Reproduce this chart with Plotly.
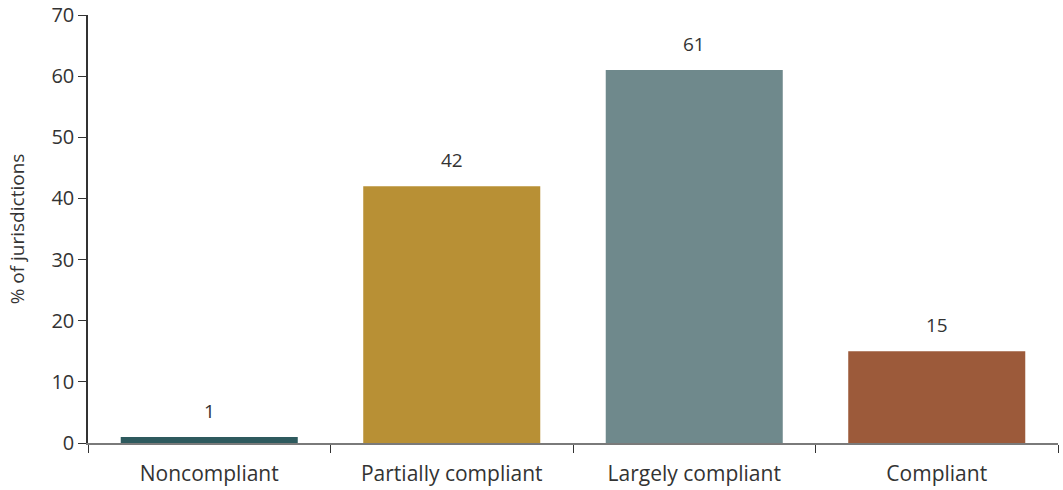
import plotly.graph_objects as go

categories = ["Noncompliant", "Partially compliant", "Largely compliant", "Compliant"]
values = [1, 42, 61, 15]
colors = ["#2E5A5E", "#B89035", "#6F898C", "#9C5A3A"]
y_ticks = [0, 10, 20, 30, 40, 50, 60, 70]

font_family = "Open Sans, Lato, sans-serif"

fig = go.Figure()
fig.add_trace(go.Bar(
    x=categories, y=values, marker=dict(color=colors, line=dict(width=0)),
    width=0.73, hoverinfo="skip",
))
for c, v in zip(categories, values):
    fig.add_annotation(x=c, y=v, text=str(v), showarrow=False, yanchor="bottom",
                       yshift=11, font=dict(size=19, color="#333333", family=font_family))

fig.update_layout(
    width=1063, height=490,
    margin=dict(l=88, r=5, t=15, b=47),
    paper_bgcolor="white", plot_bgcolor="white",
    showlegend=False,
    font=dict(family=font_family, color="#333333"),
    xaxis=dict(
        type="category", showline=True, linecolor="#7a7a7a", linewidth=2,
        ticks="outside", tickson="boundaries", ticklen=8, tickcolor="#333333", tickwidth=1,
        tickfont=dict(size=21, color="#333333"), showgrid=False, zeroline=False,
        range=[-0.5, 3.5], ticklabelstandoff=11, automargin=False,
    ),
    yaxis=dict(
        range=[0, 70], tickvals=y_ticks, showline=True, linecolor="#333333", linewidth=1.5,
        ticks="outside", ticklen=8, tickcolor="#333333",
        tickfont=dict(size=20, color="#333333"), showgrid=False, zeroline=False,
        automargin=False,
        title=dict(text="% of jurisdictions", font=dict(size=19, color="#333333"), standoff=22),
    ),
)
fig.write_html("out.html")
